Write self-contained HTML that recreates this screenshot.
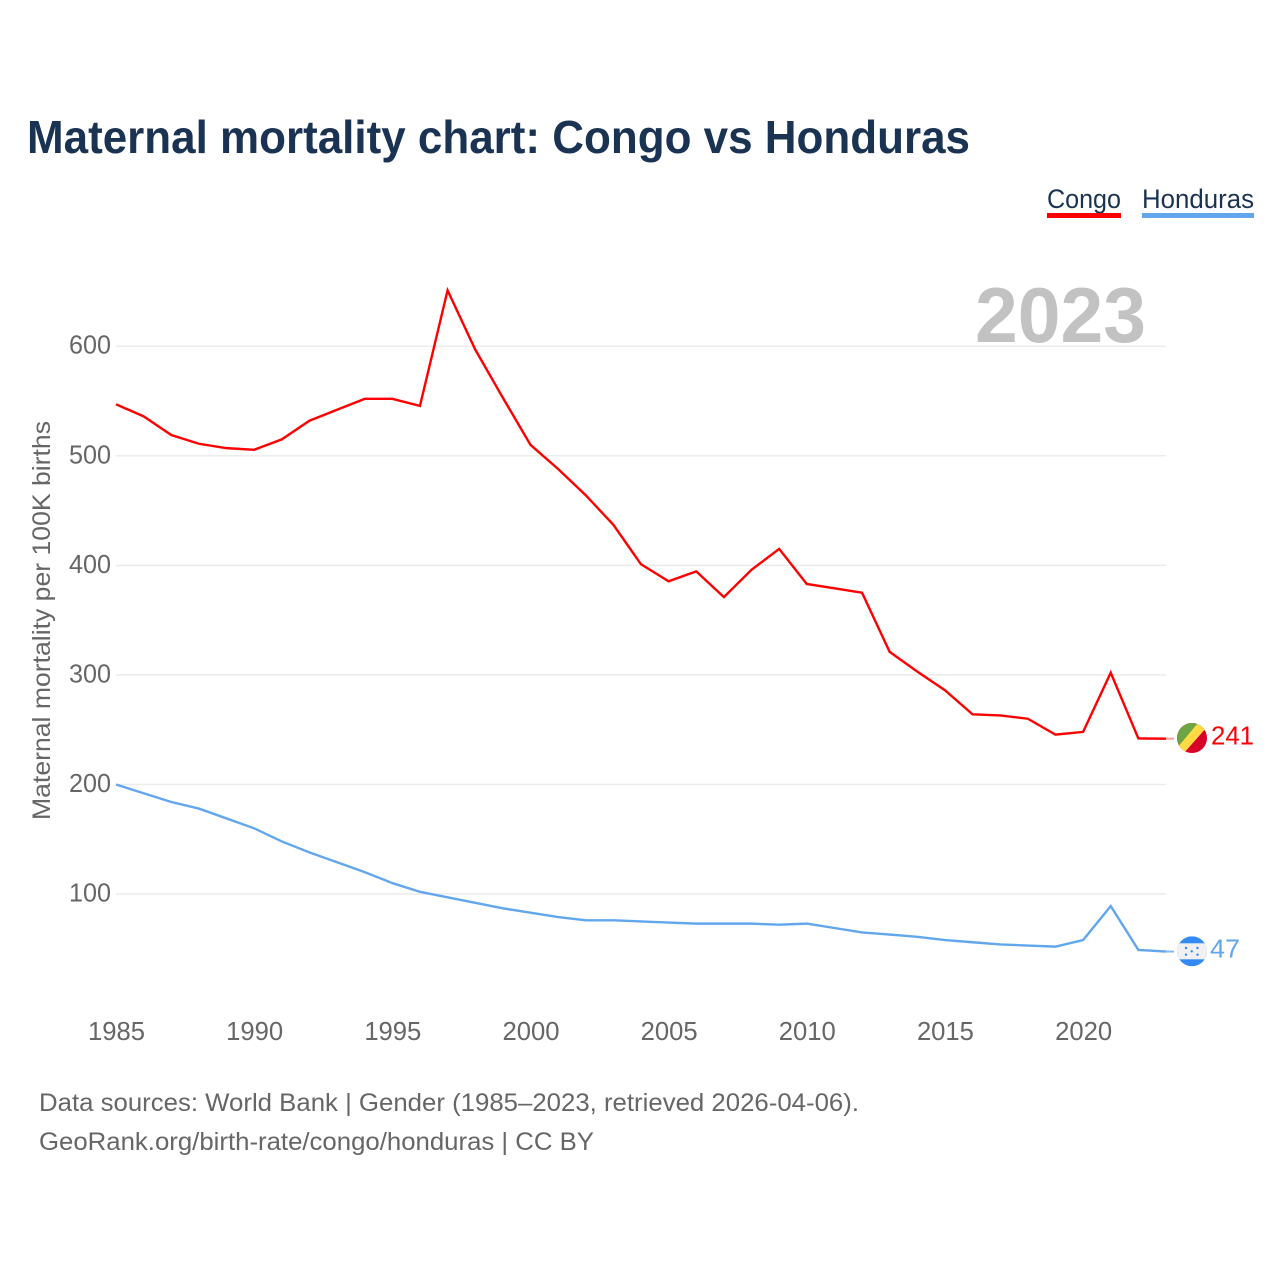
<!DOCTYPE html>
<html lang="en">
<head>
<meta charset="utf-8">
<title>Maternal mortality chart: Congo vs Honduras</title>
<style>
html,body{margin:0;padding:0;background:#fff;width:1280px;height:1280px;overflow:hidden}
svg{display:block}
text{font-family:"Liberation Sans",sans-serif}
</style>
</head>
<body>
<svg id="chart" width="1280" height="1280" viewBox="0 0 1280 1280" xmlns="http://www.w3.org/2000/svg">
  <defs>
    <clipPath id="clip-congo"><circle cx="1192" cy="738" r="15"/></clipPath>
    <clipPath id="clip-honduras"><circle cx="1192" cy="951.3" r="15"/></clipPath>
  </defs>
  <text x="27" y="153" font-size="46" font-weight="700" fill="#1a3352" textLength="943" lengthAdjust="spacingAndGlyphs">Maternal mortality chart: Congo vs Honduras</text>

  <text x="1047" y="208" font-size="27" fill="#1a3352" textLength="74" lengthAdjust="spacingAndGlyphs">Congo</text>
  <rect x="1047" y="213" width="74" height="5" fill="#ff0000"/>
  <text x="1142" y="208" font-size="27" fill="#1a3352" textLength="112" lengthAdjust="spacingAndGlyphs">Honduras</text>
  <rect x="1142" y="213" width="112" height="5" fill="#62a6ee"/>

  <g id="grid"></g>
  <g id="y-ticks"></g>
  <g id="x-ticks"></g>

  <text x="975" y="342" font-size="78" font-weight="700" fill="#c2c2c2" textLength="171" lengthAdjust="spacingAndGlyphs">2023</text>

  <text transform="translate(50,820) rotate(-90)" x="0" y="0" font-size="25" fill="#666666" textLength="399" lengthAdjust="spacingAndGlyphs">Maternal mortality per 100K births</text>

  <polyline id="line-congo" fill="none" stroke="#ff0000" stroke-width="2.4" stroke-linejoin="miter"/>
  <polyline id="line-honduras" fill="none" stroke="#62a6ee" stroke-width="2.4" stroke-linejoin="miter"/>
  <line id="conn-congo" x1="1166" x2="1174" stroke="#ff0000" stroke-opacity="0.4" stroke-width="2"/>
  <line id="conn-honduras" x1="1166" x2="1174" stroke="#62a6ee" stroke-opacity="0.8" stroke-width="2"/>

  <g clip-path="url(#clip-congo)">
    <rect x="1177" y="723" width="30" height="30" fill="#d80027"/>
    <polygon points="1177,723 1207,723 1177,753" fill="#6da544"/>
    <polygon points="1198,723 1207,723 1207,727 1184,753 1177,753 1177,748" fill="#ffda44"/>
  </g>
  <g clip-path="url(#clip-honduras)">
    <rect x="1177" y="936.3" width="30" height="30" fill="#338af3"/>
    <rect x="1177" y="943.3" width="30" height="16" fill="#f0f0f0"/>
    <circle cx="1186" cy="948" r="1.2" fill="#338af3"/>
    <circle cx="1197.5" cy="948" r="1.2" fill="#338af3"/>
    <circle cx="1191.7" cy="951.3" r="1.2" fill="#338af3"/>
    <circle cx="1186" cy="954.7" r="1.2" fill="#338af3"/>
    <circle cx="1197.5" cy="954.7" r="1.2" fill="#338af3"/>
  </g>

  <text id="end-congo" x="1211" y="744.5" font-size="26" fill="#ff0000" textLength="43" lengthAdjust="spacingAndGlyphs">241</text>
  <text id="end-honduras" x="1210" y="957.5" font-size="26" fill="#62a6ee" textLength="30" lengthAdjust="spacingAndGlyphs">47</text>

  <text x="39" y="1111" font-size="25" fill="#666666" textLength="820" lengthAdjust="spacingAndGlyphs">Data sources: World Bank | Gender (1985–2023, retrieved 2026-04-06).</text>
  <text x="39" y="1150" font-size="25" fill="#666666" textLength="555" lengthAdjust="spacingAndGlyphs">GeoRank.org/birth-rate/congo/honduras | CC BY</text>
</svg>
<script>
const years = [1985,1986,1987,1988,1989,1990,1991,1992,1993,1994,1995,1996,1997,1998,1999,2000,2001,2002,2003,2004,2005,2006,2007,2008,2009,2010,2011,2012,2013,2014,2015,2016,2017,2018,2019,2020,2021,2022,2023];
const congoValues = [547,536,519,511,507,505.5,515,532,542,552,552,545.5,651,597,553,510,488,464,437,401,385.5,394.5,371,396,415,383,379,375,321,303,286,264,263,260,245.5,248,302,242,241.8];
const hondurasValues = [200,192,184,178,169,160,148,138,129,120,110,102,97,92,87,83,79,76,76,75,74,73,73,73,72,73,69,65,63,61,58,56,54,53,52,58,89,49,47.5];
const yTickValues = [100,200,300,400,500,600];
const xTickValues = [1985,1990,1995,2000,2005,2010,2015,2020];

const NS = 'http://www.w3.org/2000/svg';
function xScale(year){ return 116 + (year - 1985) * (1166 - 116) / (2023 - 1985); }
function yScale(value){ return 1003.6 - value * 1.0956; }

const gridGroup = document.getElementById('grid');
const yTickGroup = document.getElementById('y-ticks');
const xTickGroup = document.getElementById('x-ticks');

yTickValues.forEach(function(v){
  const gridLine = document.createElementNS(NS, 'line');
  
  
  gridLine.setAttribute('x1', 116);
  gridLine.setAttribute('x2', 1166);
  gridLine.setAttribute('y1', yScale(v));
  gridLine.setAttribute('y2', yScale(v));
  gridLine.setAttribute('stroke', '#ececec');
  gridLine.setAttribute('stroke-width', '1.5');
  gridGroup.appendChild(gridLine);

  const label = document.createElementNS(NS, 'text');
  
  
  label.setAttribute('x', 69);
  label.setAttribute('y', yScale(v) + 7.5);
  label.setAttribute('font-size', '26');
  label.setAttribute('fill', '#666666');
  label.setAttribute('textLength', '42');
  label.setAttribute('lengthAdjust', 'spacingAndGlyphs');
  label.textContent = v;
  yTickGroup.appendChild(label);
});

xTickValues.forEach(function(y){
  const label = document.createElementNS(NS, 'text');
  
  
  label.setAttribute('x', xScale(y) - 28);
  label.setAttribute('y', 1040);
  label.setAttribute('font-size', '26');
  label.setAttribute('fill', '#666666');
  label.setAttribute('textLength', '57');
  label.setAttribute('lengthAdjust', 'spacingAndGlyphs');
  label.textContent = y;
  xTickGroup.appendChild(label);
});

function pointsFor(values){
  return values.map(function(v, i){ return xScale(years[i]).toFixed(2) + ',' + yScale(v).toFixed(2); }).join(' ');
}
document.getElementById('line-congo').setAttribute('points', pointsFor(congoValues));
document.getElementById('line-honduras').setAttribute('points', pointsFor(hondurasValues));

const lastCongo = congoValues[congoValues.length - 1];
const lastHonduras = hondurasValues[hondurasValues.length - 1];
const connCongo = document.getElementById('conn-congo');
connCongo.setAttribute('y1', yScale(lastCongo));
connCongo.setAttribute('y2', yScale(lastCongo));
const connHonduras = document.getElementById('conn-honduras');
connHonduras.setAttribute('y1', yScale(lastHonduras));
connHonduras.setAttribute('y2', yScale(lastHonduras));
document.getElementById('end-congo').textContent = Math.trunc(lastCongo);
document.getElementById('end-honduras').textContent = Math.trunc(lastHonduras);
</script>
</body>
</html>
